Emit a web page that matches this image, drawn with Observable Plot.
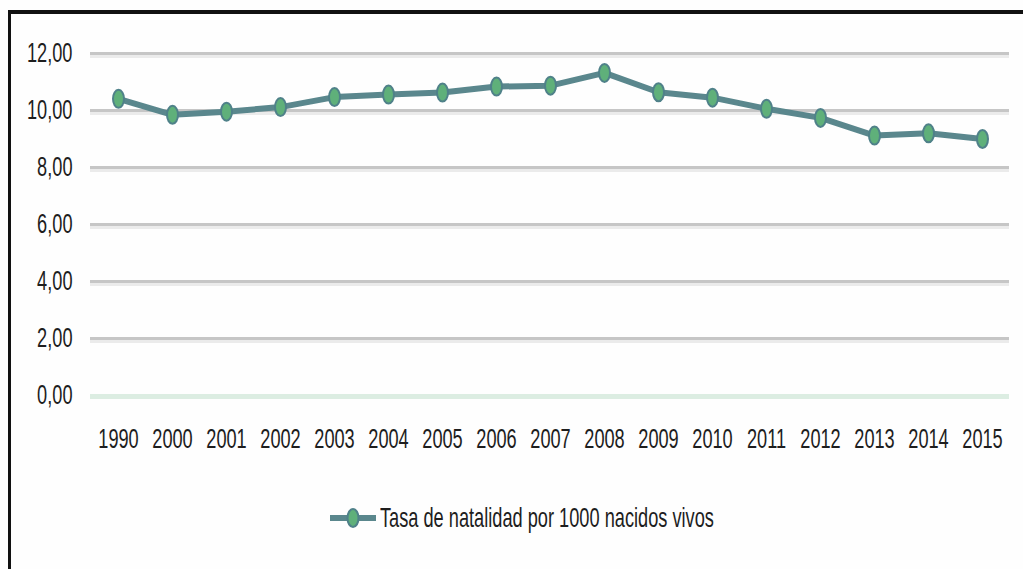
<!DOCTYPE html>
<html>
<head>
<meta charset="utf-8">
<script src="https://cdn.jsdelivr.net/npm/d3@7"></script>
<script src="https://cdn.jsdelivr.net/npm/@observablehq/plot@0.6"></script>
<style>
  html, body { margin: 0; padding: 0; background: #fefefe; }
  body { width: 1023px; height: 569px; position: relative; overflow: hidden; font-family: "Liberation Sans", Arial, sans-serif; }
  #frame { position: absolute; left: 8px; top: 10px; width: 1015px; height: 559px; border-top: 4px solid #111; border-left: 3px solid #111; box-sizing: border-box; }
  #chart { position: absolute; left: 0; top: 0; }
  #legend { position: absolute; left: 330px; top: 500px; height: 36px; display: flex; align-items: center; }
  #legend span { display: inline-block; font-size: 28px; color: #1e1e1e; transform: scaleX(0.65); transform-origin: left center; white-space: nowrap; margin-left: 4px; }
</style>
</head>
<body>
<div id="frame"></div>
<div id="chart"></div>
<div id="legend">
  <svg width="46" height="36" viewBox="0 0 46 36">
    <line x1="0" x2="46" y1="18" y2="18" stroke="#5a878d" stroke-width="6"></line>
    <ellipse cx="23" cy="18" rx="5.5" ry="9" fill="#5fb07a" stroke="#4f8189" stroke-width="2"></ellipse>
  </svg>
  <span id="legendText"></span>
</div>
<script>
const years = ["1990","2000","2001","2002","2003","2004","2005","2006","2007","2008","2009","2010","2011","2012","2013","2014","2015"];
const rates = [10.41, 9.85, 9.96, 10.12, 10.47, 10.56, 10.63, 10.84, 10.87, 11.32, 10.64, 10.45, 10.06, 9.74, 9.12, 9.2, 9.0];
const yTicks = [0, 2, 4, 6, 8, 10, 12];
const seriesName = "Tasa de natalidad por 1000 nacidos vivos";

const data = years.map((y, i) => ({year: y, value: rates[i]}));

const ellipse = {
  draw(context) {
    const rx = 5.5, ry = 9, k = 0.5523;
    context.moveTo(rx, 0);
    context.bezierCurveTo(rx, ry * k, rx * k, ry, 0, ry);
    context.bezierCurveTo(-rx * k, ry, -rx, ry * k, -rx, 0);
    context.bezierCurveTo(-rx, -ry * k, -rx * k, -ry, 0, -ry);
    context.bezierCurveTo(rx * k, -ry, rx, -ry * k, rx, 0);
    context.closePath();
  }
};

const fmt = d => d.toFixed(2).replace(".", ",");

const plot = Plot.plot({
  width: 1023,
  height: 470,
  marginTop: 53,
  marginBottom: 75,
  marginLeft: 90,
  marginRight: 14,
  style: {background: "transparent", fontFamily: "'Liberation Sans', Arial, sans-serif", fontSize: "28px", color: "#1e1e1e"},
  x: {type: "point", domain: years, padding: 0.5, label: null},
  y: {domain: [0, 12], ticks: yTicks, label: null, tickFormat: fmt},
  marks: [
    Plot.ruleY(yTicks.filter(d => d > 0), {stroke: "#ebebeb", strokeWidth: 3, dy: 3}),
    Plot.ruleY(yTicks.filter(d => d > 0), {stroke: "#c6c6c6", strokeWidth: 3}),
    Plot.ruleY([0], {stroke: "#dcede2", strokeWidth: 5, dy: 1}),
    Plot.axisX({tickSize: 0, tickPadding: 33, fontSize: 28, label: null}),
    Plot.axisY({tickSize: 0, tickPadding: 18, fontSize: 28, label: null, ticks: yTicks, tickFormat: fmt}),
    Plot.line(data, {x: "year", y: "value", stroke: "#5a878d", strokeWidth: 6, strokeLinejoin: "round"}),
    Plot.dot(data, {x: "year", y: "value", symbol: ellipse, r: 6, fill: "#5fb07a", stroke: "#4f8189", strokeWidth: 2})
  ]
});

// horizontally condense all tick label text (the reference uses a narrow font)
plot.querySelectorAll("text").forEach(t => {
  const tr = t.getAttribute("transform");
  if (tr) t.setAttribute("transform", tr + " scale(0.65,1)");
});

document.getElementById("chart").appendChild(plot);
document.getElementById("legendText").textContent = seriesName;
</script>
</body>
</html>
